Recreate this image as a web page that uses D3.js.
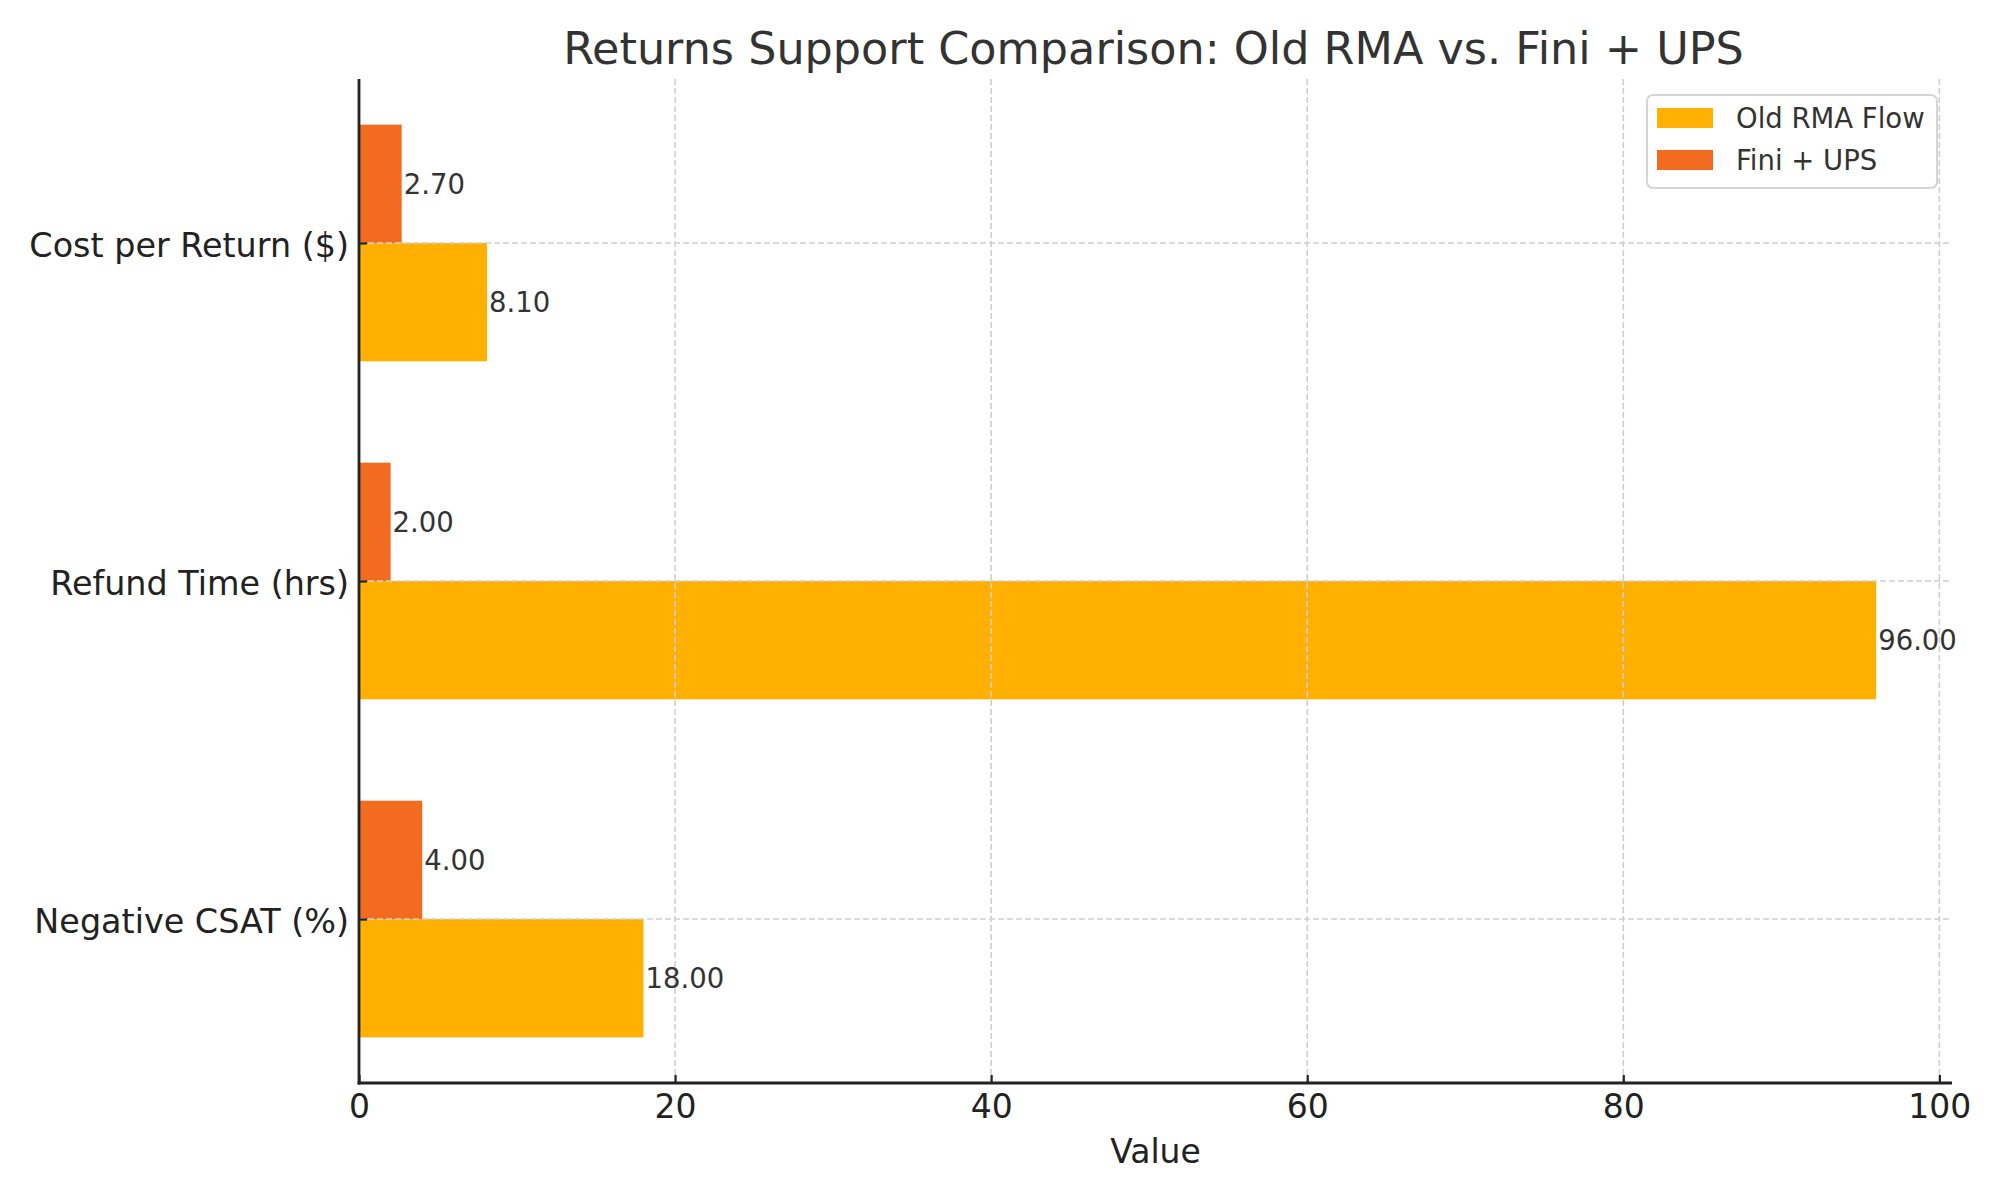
<!DOCTYPE html>
<html>
<head>
<meta charset="utf-8">
<script src="https://cdn.jsdelivr.net/npm/d3@7"></script>
<style>
  html, body { margin: 0; padding: 0; background: #fff; }
  svg { display: block; font-family: "DejaVu Sans", sans-serif; }
</style>
</head>
<body>
<svg id="chart" width="2000" height="1200"></svg>
<script>
const categories = ["Cost per Return ($)", "Refund Time (hrs)", "Negative CSAT (%)"];
const oldRMA = [8.10, 96.00, 18.00];
const finiUPS = [2.70, 2.00, 4.00];
const seriesNames = ["Old RMA Flow", "Fini + UPS"];
const xTicks = [0, 20, 40, 60, 80, 100];
const title = "Returns Support Comparison: Old RMA vs. Fini + UPS";
const xLabel = "Value";

const colors = { old: "#FFB000", fini: "#F26B21" };
const W = 2000, H = 1200;
const m = { left: 359, right: 1952, top: 79, bottom: 1083 };
const barH = 0.35;

const svg = d3.select("#chart");
const x = d3.scaleLinear().domain([0, 100.8]).range([m.left, m.right]);
const y = d3.scaleLinear().domain([-0.485, 2.485]).range([m.top, m.bottom]);

// bars
const gBars = svg.append("g");
gBars.selectAll("rect.fini").data(finiUPS).join("rect")
  .attr("class", "fini")
  .attr("x", x(0)).attr("y", (d, i) => y(i - barH))
  .attr("width", d => x(d) - x(0)).attr("height", y(barH) - y(0))
  .attr("fill", colors.fini);
gBars.selectAll("rect.old").data(oldRMA).join("rect")
  .attr("class", "old")
  .attr("x", x(0)).attr("y", (d, i) => y(i))
  .attr("width", d => x(d) - x(0)).attr("height", y(barH) - y(0))
  .attr("fill", colors.old);

// grid (drawn above bars)
const gGrid = svg.append("g").attr("stroke", "#cfcfcf").attr("stroke-width", 1.6)
  .attr("stroke-dasharray", "6,3");
gGrid.selectAll("line.vx").data(xTicks).join("line")
  .attr("x1", d => x(d)).attr("x2", d => x(d))
  .attr("y1", m.top).attr("y2", m.bottom);
gGrid.selectAll("line.hy").data(categories).join("line")
  .attr("x1", m.left).attr("x2", m.right)
  .attr("y1", (d, i) => y(i)).attr("y2", (d, i) => y(i));

// value labels
const gLab = svg.append("g").attr("font-size", 27.5).attr("fill", "#333");
gLab.selectAll("text.f").data(finiUPS).join("text")
  .attr("x", d => x(d) + 2).attr("y", (d, i) => y(i - barH / 2))
  .attr("dominant-baseline", "central")
  .text(d => d.toFixed(2));
gLab.selectAll("text.o").data(oldRMA).join("text")
  .attr("x", d => x(d) + 2).attr("y", (d, i) => y(i + barH / 2))
  .attr("dominant-baseline", "central")
  .text(d => d.toFixed(2));

// axes
const xAxis = d3.axisBottom(x).tickValues(xTicks).tickSizeInner(-8).tickSizeOuter(0).tickPadding(12);
const gx = svg.append("g").attr("transform", `translate(0,${m.bottom})`).call(xAxis);
gx.select(".domain").attr("stroke", "#222").attr("stroke-width", 2.8)
  .attr("d", `M${m.left - 1.4},0H${m.right}`);
gx.selectAll(".tick line").attr("stroke", "#222").attr("stroke-width", 2.2);
gx.selectAll(".tick text").attr("font-size", 33).attr("fill", "#222")
  .attr("font-family", "DejaVu Sans");

const yAxis = d3.axisLeft(y).tickValues([0, 1, 2]).tickFormat(i => categories[i])
  .tickSizeInner(-8).tickSizeOuter(0).tickPadding(10);
const gy = svg.append("g").attr("transform", `translate(${m.left},0)`).call(yAxis);
gy.select(".domain").attr("stroke", "#222").attr("stroke-width", 2.8)
  .attr("d", `M0,${m.top}V${m.bottom + 1.4}`);
gy.selectAll(".tick line").attr("stroke", "#222").attr("stroke-width", 2.2);
gy.selectAll(".tick text").attr("font-size", 33.4).attr("fill", "#222")
  .attr("font-family", "DejaVu Sans").attr("dy", "0.4em");

// x label
svg.append("text").attr("x", (m.left + m.right) / 2).attr("y", 1163)
  .attr("text-anchor", "middle").attr("font-size", 33).attr("fill", "#222").text(xLabel);

// title
svg.append("text").attr("x", (m.left + m.right) / 2 - 2).attr("y", 64)
  .attr("text-anchor", "middle").attr("font-size", 44.5).attr("fill", "#333").text(title);

// legend
const lg = svg.append("g");
lg.append("rect").attr("x", 1647).attr("y", 95).attr("width", 290).attr("height", 93)
  .attr("rx", 6).attr("fill", "#fff").attr("fill-opacity", 0.85)
  .attr("stroke", "#d5d5d5").attr("stroke-width", 2);
const legendItems = [{ name: seriesNames[0], color: colors.old }, { name: seriesNames[1], color: colors.fini }];
lg.selectAll("rect.sw").data(legendItems).join("rect")
  .attr("class", "sw").attr("x", 1657).attr("y", (d, i) => 108 + i * 42)
  .attr("width", 56).attr("height", 20).attr("fill", d => d.color);
lg.selectAll("text").data(legendItems).join("text")
  .attr("x", 1736).attr("y", (d, i) => 118 + i * 42)
  .attr("dominant-baseline", "central").attr("font-size", 27.5).attr("fill", "#333")
  .text(d => d.name);
</script>
</body>
</html>
